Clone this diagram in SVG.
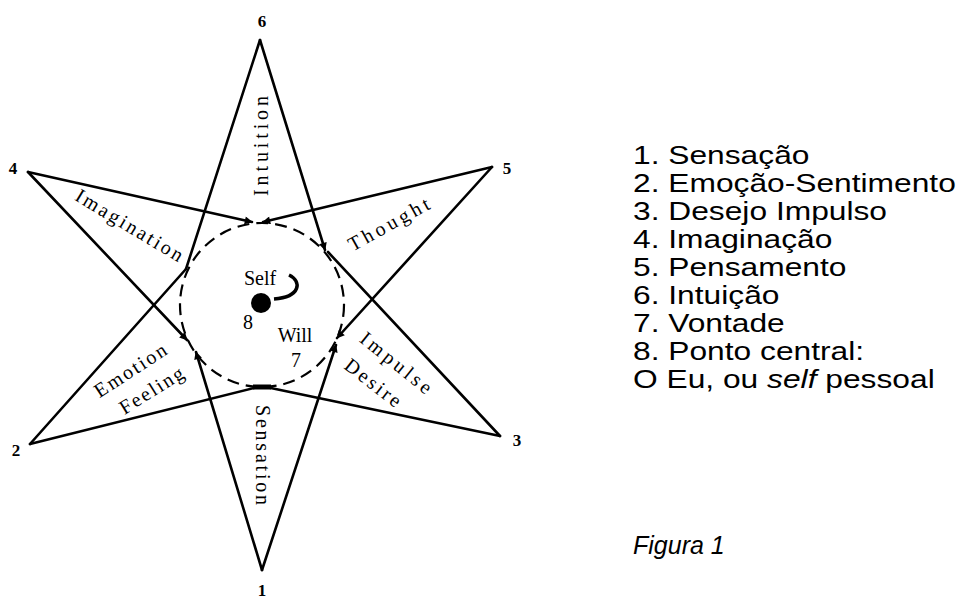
<svg xmlns="http://www.w3.org/2000/svg" width="963" height="599" viewBox="0 0 963 599">
<defs>
<style>
.ln{stroke:#000;stroke-width:2.6;fill:none;stroke-linecap:round}
.num{font-family:"Liberation Serif",serif;font-weight:bold;font-size:17px;fill:#000;text-anchor:middle}
.lab{font-family:"Liberation Serif",serif;font-size:20px;fill:#000;text-anchor:middle}
.lst{font-family:"Liberation Sans",Arial,sans-serif;font-size:25px;fill:#000}
</style>
<marker id="ah" viewBox="0 0 10 10" refX="9" refY="5" markerWidth="10" markerHeight="8" markerUnits="userSpaceOnUse" orient="auto">
<path d="M0,0 L10,5 L0,10 z" fill="#000"/>
</marker>
</defs>
<rect width="963" height="599" fill="#fff"/>
<g id="connectors">
<line class="ln" x1="260" y1="40" x2="186" y2="269"/>
<line class="ln" x1="260" y1="40" x2="325" y2="250" marker-end="url(#ah)"/>
<line class="ln" x1="28" y1="172" x2="252" y2="222" marker-end="url(#ah)"/>
<line class="ln" x1="28" y1="172" x2="187" y2="340" marker-end="url(#ah)"/>
<line class="ln" x1="492" y1="167" x2="263" y2="222" marker-end="url(#ah)"/>
<line class="ln" x1="492" y1="167" x2="337" y2="338" marker-end="url(#ah)"/>
<line class="ln" x1="30" y1="444" x2="186" y2="269"/>
<line class="ln" x1="30" y1="444" x2="258" y2="387"/>
<line class="ln" x1="500" y1="436" x2="328" y2="252"/>
<line class="ln" x1="500" y1="436" x2="266" y2="387"/>
<line class="ln" x1="262" y1="570" x2="196" y2="352" marker-end="url(#ah)"/>
<line class="ln" x1="262" y1="570" x2="336" y2="345" marker-end="url(#ah)"/>
<line x1="253" y1="387" x2="271" y2="387" stroke="#000" stroke-width="5"/>
<circle cx="262" cy="305" r="82" fill="none" stroke="#000" stroke-width="2.2" stroke-dasharray="12 7"/>
<path d="M289,275 C302,281 301,297 274,299" fill="none" stroke="#000" stroke-width="3.5"/>
</g>
<g id="center">
<circle cx="261" cy="303" r="10" fill="#000"/>
<text class="lab" x="260" y="285">Self</text>
<text class="lab" x="248" y="329" font-size="13">8</text>
<text class="lab" x="295" y="342">Will</text>
<text class="lab" x="296" y="367">7</text>
</g>
<g id="petal-6">
<text class="num" x="262" y="27">6</text>
<text class="lab" transform="translate(268,146) rotate(-90)" textLength="100" lengthAdjust="spacing">Intuition</text>
</g>
<g id="petal-4">
<text class="num" x="13" y="174">4</text>
<text class="lab" transform="translate(126,231) rotate(31)" textLength="122" lengthAdjust="spacing">Imagination</text>
</g>
<g id="petal-5">
<text class="num" x="507" y="174">5</text>
<text class="lab" transform="translate(392,230) rotate(-29)" textLength="90" lengthAdjust="spacing">Thought</text>
</g>
<g id="petal-2">
<text class="num" x="16" y="456">2</text>
<text class="lab" transform="translate(134,376) rotate(-33)" textLength="82" lengthAdjust="spacing">Emotion</text>
<text class="lab" transform="translate(155,396) rotate(-32)" textLength="72" lengthAdjust="spacing">Feeling</text>
</g>
<g id="petal-3">
<text class="num" x="517" y="446">3</text>
<text class="lab" transform="translate(392,368) rotate(39)" textLength="86" lengthAdjust="spacing">Impulse</text>
<text class="lab" transform="translate(369,388) rotate(38)" textLength="66" lengthAdjust="spacing">Desire</text>
</g>
<g id="petal-1">
<text class="num" x="262" y="596">1</text>
<text class="lab" transform="translate(256,455) rotate(90)" textLength="100" lengthAdjust="spacing">Sensation</text>
</g>
<g id="legend">
<g transform="translate(633,0) scale(1.27,1)">
<text class="lst" x="0" y="164">1. Sensação</text>
<text class="lst" x="0" y="192">2. Emoção-Sentimento</text>
<text class="lst" x="0" y="220">3. Desejo Impulso</text>
<text class="lst" x="0" y="248">4. Imaginação</text>
<text class="lst" x="0" y="276">5. Pensamento</text>
<text class="lst" x="0" y="304">6. Intuição</text>
<text class="lst" x="0" y="332">7. Vontade</text>
<text class="lst" x="0" y="360">8. Ponto central:</text>
<text class="lst" x="0" y="388">O Eu, ou <tspan font-style="italic">self</tspan> pessoal</text>
</g>
<text class="lst" x="633" y="554" font-style="italic" font-size="24">Figura 1</text>
</g>
</svg>
